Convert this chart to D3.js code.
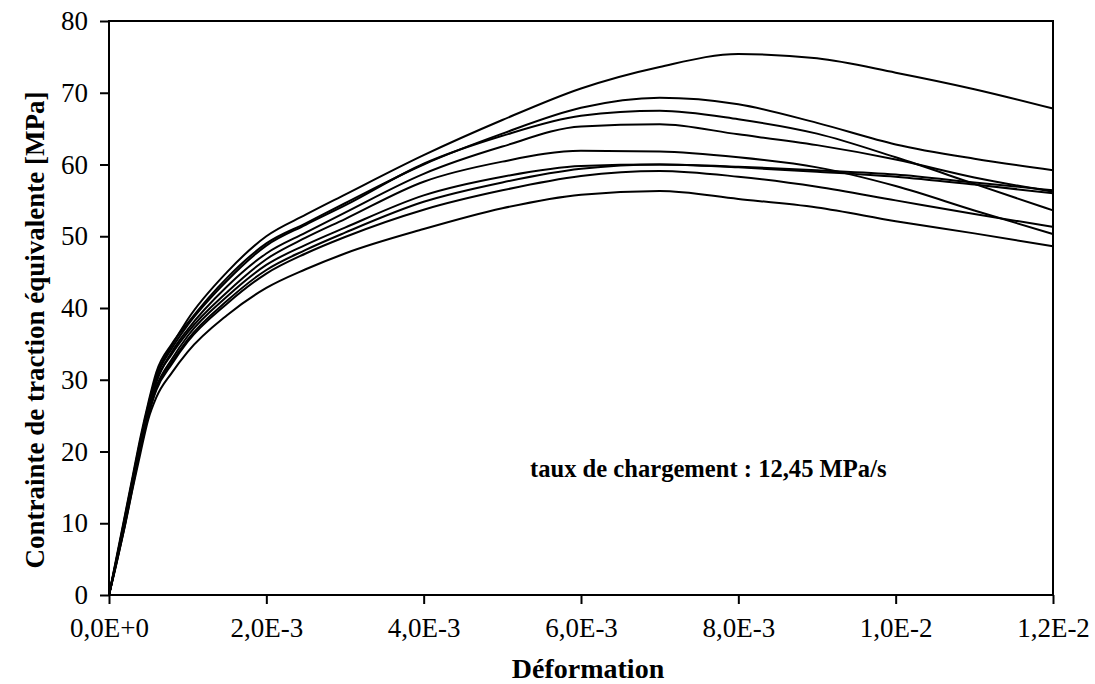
<!DOCTYPE html>
<html>
<head>
<meta charset="utf-8">
<script src="https://cdn.jsdelivr.net/npm/d3@7"></script>
<style>
	body { margin: 0; background: #fff; }
	svg { display: block; font-family: "Liberation Serif", "Times New Roman", serif; }
</style>
</head>
<body>
<svg id="chart" width="1095" height="684"></svg>
<script>
// strain values shared by every test curve
var strain = [0, 0.0001, 0.0002, 0.0003, 0.0004, 0.0005, 0.0006, 0.0008, 0.001, 0.0015,
	0.002, 0.0025, 0.003, 0.004, 0.005, 0.006, 0.007, 0.008, 0.009, 0.01, 0.011, 0.012];

// stress [MPa], one array per specimen
var essaiA = [0, 5.0, 10.5, 16.0, 21.5, 26.5, 30.5, 34.8, 38.4, 45.0, 50.0, 53.0, 55.8, 61.3, 66.2, 70.6, 73.6, 75.4, 74.8, 72.8, 70.5, 67.8];
var essaiB = [0, 5.5, 11.0, 16.5, 22.0, 26.8, 31.0, 35.0, 37.9, 44.2, 49.0, 51.8, 54.6, 60.0, 64.3, 67.9, 69.3, 68.4, 65.8, 62.8, 60.8, 59.2];
var essaiC = [0, 5.2, 10.8, 16.2, 21.6, 26.3, 30.2, 34.4, 37.6, 43.8, 48.7, 51.6, 54.3, 60.1, 64.0, 66.8, 67.5, 66.3, 64.3, 61.0, 57.3, 53.6];
var essaiD = [0, 4.8, 10.0, 15.5, 20.8, 25.8, 29.6, 33.9, 37.0, 43.0, 47.6, 50.5, 53.3, 58.7, 62.5, 65.3, 65.6, 64.2, 62.7, 60.7, 58.2, 56.2];
var essaiE = [0, 5.3, 10.5, 16.0, 21.2, 26.0, 29.8, 33.6, 36.6, 42.2, 46.8, 49.8, 52.4, 57.6, 60.4, 61.9, 61.8, 61.0, 59.6, 57.0, 53.6, 50.3];
var essaiF = [0, 4.6, 9.6, 15.0, 20.5, 25.5, 29.0, 32.9, 36.1, 41.6, 46.0, 48.8, 51.2, 55.7, 58.3, 59.8, 60.0, 59.7, 59.2, 58.6, 57.5, 56.4];
var essaiG = [0, 5.0, 10.2, 15.6, 21.0, 25.2, 28.8, 32.5, 35.6, 41.0, 45.3, 48.1, 50.5, 54.8, 57.5, 59.4, 60.0, 59.6, 59.0, 58.3, 57.2, 56.0];
var essaiH = [0, 4.9, 9.8, 15.3, 20.4, 25.0, 28.5, 32.2, 35.3, 40.6, 44.8, 47.6, 49.9, 53.7, 56.4, 58.4, 59.1, 58.3, 56.9, 55.0, 53.1, 51.3];
var essaiI = [0, 4.7, 9.5, 14.8, 19.8, 24.5, 27.5, 31.0, 33.9, 39.0, 42.8, 45.4, 47.6, 51.0, 53.9, 55.8, 56.3, 55.2, 54.0, 52.1, 50.4, 48.6];

var xTicks = [0, 0.002, 0.004, 0.006, 0.008, 0.010, 0.012];
var xTickLabels = ['0,0E+0', '2,0E-3', '4,0E-3', '6,0E-3', '8,0E-3', '1,0E-2', '1,2E-2'];
var yTicks = [0, 10, 20, 30, 40, 50, 60, 70, 80];

var series = [essaiA, essaiB, essaiC, essaiD, essaiE, essaiF, essaiG, essaiH, essaiI];

var svg = d3.select('#chart');
var plotLeft = 109, plotRight = 1053, plotTop = 21, plotBottom = 595;

var x = d3.scaleLinear().domain([0, 0.012]).range([plotLeft, plotRight]);
var y = d3.scaleLinear().domain([0, 80]).range([plotBottom, plotTop]);

// curves
var line = d3.line()
	.x(function(d, i) {return x(strain[i])})
	.y(function(d) {return y(d)})
	.curve(d3.curveMonotoneX);

svg.append('g').selectAll('path')
	.data(series)
	.enter().append('path')
	.attr('d', line)
	.attr('fill', 'none')
	.attr('stroke', '#000')
	.attr('stroke-width', 2);

// frame
svg.append('rect')
	.attr('x', plotLeft).attr('y', plotTop)
	.attr('width', plotRight - plotLeft).attr('height', plotBottom - plotTop)
	.attr('fill', 'none').attr('stroke', '#000').attr('stroke-width', 2);

// axes
var xAxis = d3.axisBottom(x)
	.tickValues(xTicks)
	.tickFormat(function(d, i) {return xTickLabels[i]})
	.tickSizeInner(9).tickSizeOuter(0).tickPadding(14);
var gx = svg.append('g').attr('transform', 'translate(0,' + plotBottom + ')').call(xAxis);

var yAxis = d3.axisLeft(y)
	.tickValues(yTicks)
	.tickSizeInner(9).tickSizeOuter(0).tickPadding(12);
var gy = svg.append('g').attr('transform', 'translate(' + plotLeft + ',0)').call(yAxis);

[gx, gy].forEach(function(g) {
	g.select('.domain').remove();
	g.selectAll('line').attr('stroke', '#000').attr('stroke-width', 2);
	g.selectAll('text')
		.attr('font-family', '"Liberation Serif", "Times New Roman", serif')
		.attr('font-size', 27)
		.attr('fill', '#000');
});

// titles
svg.append('text')
	.attr('x', 588).attr('y', 678)
	.attr('text-anchor', 'middle')
	.attr('font-size', 28).attr('font-weight', 'bold')
	.text('Déformation');

svg.append('text')
	.attr('transform', 'translate(44,330) rotate(-90)')
	.attr('text-anchor', 'middle')
	.attr('font-size', 27).attr('font-weight', 'bold')
	.text('Contrainte de traction équivalente [MPa]');

svg.append('text')
	.attr('x', 530).attr('y', 477)
	.attr('font-size', 24.6).attr('font-weight', 'bold')
	.text('taux de chargement : 12,45 MPa/s');
</script>
</body>
</html>
